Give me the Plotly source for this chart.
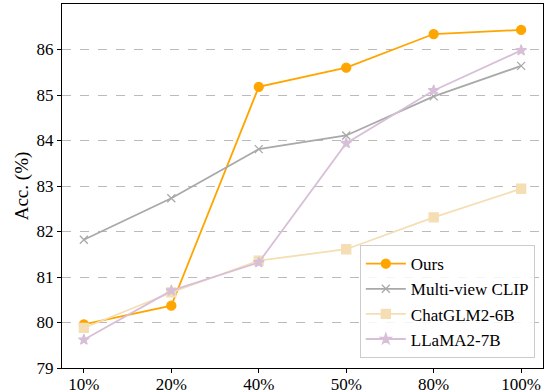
import plotly.graph_objects as go

categories = ["10%", "20%", "40%", "50%", "80%", "100%"]
ours = [79.96, 80.37, 85.18, 85.60, 86.34, 86.43]
clip = [81.82, 82.73, 83.81, 84.11, 84.97, 85.64]
chatglm = [79.88, 80.66, 81.36, 81.61, 82.31, 82.94]
llama = [79.62, 80.70, 81.32, 83.94, 85.10, 85.98]

series = [
    ("Ours", ours, "#FFA500", "circle", 9),
    ("Multi-view CLIP", clip, "#A9A9A9", "x-thin", 8),
    ("ChatGLM2-6B", chatglm, "#F5DEB3", "square", 9),
    ("LLaMA2-7B", llama, "#D8BFD8", "star", 8),
]

fig = go.Figure()
for name, vals, color, sym, size in series:
    fig.add_trace(go.Scatter(
        x=categories, y=vals, name=name, mode="lines+markers",
        line=dict(color=color, width=1.8),
        marker=dict(symbol=sym, size=size, color=color,
                    line=dict(color=color, width=1.3)),
    ))

font_family = "Liberation Serif, Times New Roman, serif"
fig.update_layout(
    width=547, height=392,
    margin=dict(l=62, r=4, t=4, b=24, autoexpand=False),
    paper_bgcolor="white", plot_bgcolor="white",
    font=dict(family=font_family, size=17, color="black"),
    legend=dict(
        x=0.983, y=0.027, xanchor="right", yanchor="bottom",
        bgcolor="rgba(255,255,255,0.85)", bordercolor="#CCCCCC", borderwidth=1,
        font=dict(size=17, family=font_family), itemwidth=40,
        tracegroupgap=0,
    ),
    showlegend=True,
)
fig.update_xaxes(
    type="category", range=[-0.25, 5.25], automargin=False,
    showline=True, linecolor="black", linewidth=1.2, mirror=True,
    ticks="outside", ticklen=4, tickcolor="black",
    showgrid=False, tickfont=dict(size=17), ticklabelstandoff=-4,
)
fig.update_yaxes(
    range=[79, 87], tickvals=[79, 80, 81, 82, 83, 84, 85, 86], automargin=False,
    showline=True, linecolor="black", linewidth=1.2, mirror=True,
    ticks="outside", ticklen=4, tickcolor="black",
    showgrid=True, gridcolor="#BBBBBB", griddash="dash", gridwidth=1,
    zeroline=False, tickfont=dict(size=17),
    title=dict(text="Acc. (%)", font=dict(size=19), standoff=2),
)

fig.write_html(
    "out.html",
    config={"displayModeBar": False},
    post_script="document.body.style.margin='0';document.body.style.overflow='hidden';",
)
